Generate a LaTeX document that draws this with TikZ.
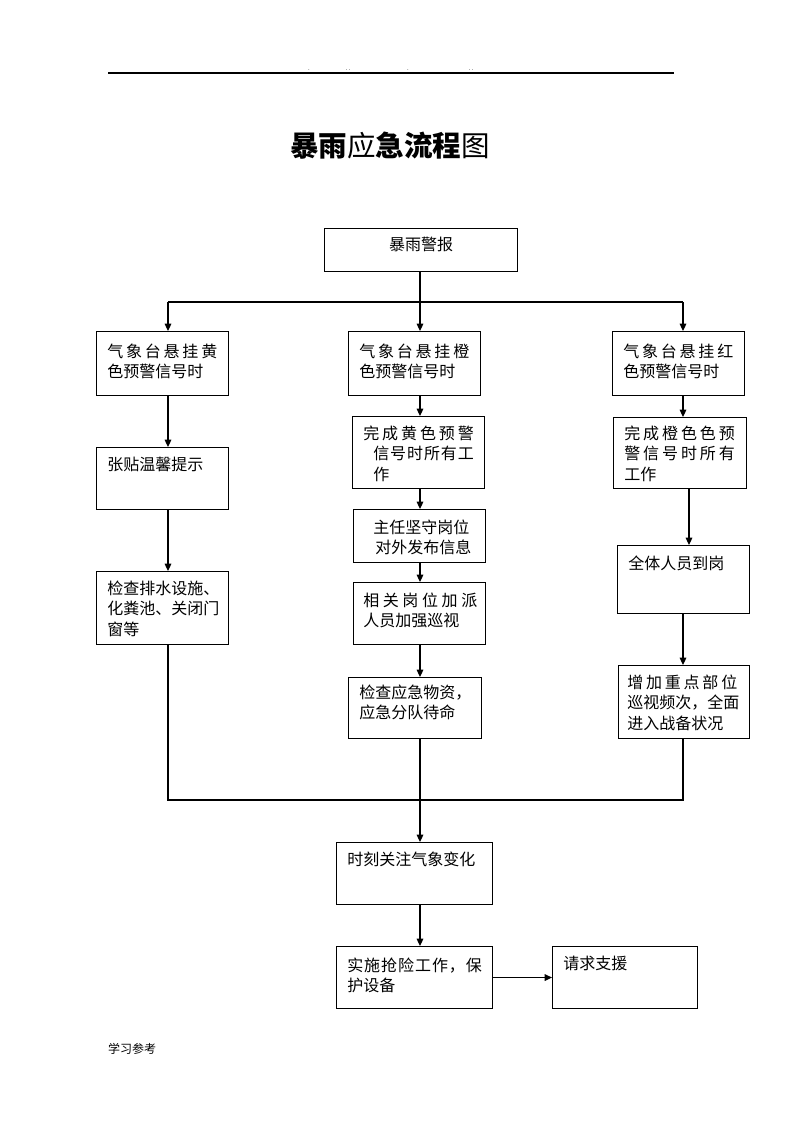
\documentclass[tikz,border=0pt]{standalone}
\usepackage{fontspec}
\newfontfamily\cjk{Noto Sans CJK SC}
\usetikzlibrary{arrows.meta}
\newcommand\corps{\cjk\fontsize{12pt}{15.4pt}\selectfont}
% caracteres repartis sur une largeur donnee
\def\etirelist#1#2{#1\ifx\relax#2\else\hfil\expandafter\etirelist\expandafter#2\fi}
\newcommand\etire[2]{\hbox to #1{\etirelist#2\relax}}
\begin{document}
\begin{tikzpicture}[x=0.75pt,y=-0.75pt,
	trait/.style={line width=0.8pt},
	fleche/.style={trait,-{Triangle[length=5.5pt,width=5pt]}},
	boite/.style={draw,line width=0.8pt,inner sep=0pt,anchor=north west},
	taille/.style 2 args={minimum width=#1*0.75pt,minimum height=#2*0.75pt},
	texte/.style={anchor=north west,inner sep=0pt,align=left,font=\corps},
	point/.style={anchor=base,inner sep=0pt,font=\fontsize{5pt}{5pt}\selectfont}]
	\useasboundingbox (0,0) rectangle (793,1122);
%					En-tete de page :
	\draw[line width=0.9pt] (108,73) -- (674,73);
	\node[point] (p1) at (309,70) {.};
	\node[point] (p2) at (348,70) {..};
	\node[point] (p3) at (408,70) {.};
	\node[point] (p4) at (471,70) {..};
	\node[font=\cjk\fontsize{21.4pt}{24pt}\selectfont] (titre) at (390,146) {{\bfseries 暴雨}应{\bfseries 急流程}图};
%					Cadres :
	\node[boite,taille={193}{43}] (alerte) at (324,228) {};
	\node[font=\corps] (t-alerte) at (421,244) {暴雨警报};
	% colonne jaune
	\node[boite,taille={132}{64}] (jaune1) at (96,331) {};
	\node[texte] (t-jaune1) at (107,343.5) {\etire{82.5pt}{气象台悬挂黄}\\色预警信号时};
	\node[boite,taille={132}{62}] (jaune2) at (96,447) {};
	\node[texte] (t-jaune2) at (107,456.5) {张贴温馨提示};
	\node[boite,taille={132}{73}] (jaune3) at (96,571) {};
	\node[texte] (t-jaune3) at (107,580.5) {检查排水设施、\\化粪池、关闭门\\窗等};
	% colonne orange
	\node[boite,taille={132}{64}] (orange1) at (348,331) {};
	\node[texte] (t-orange1) at (359,343.5) {\etire{82.5pt}{气象台悬挂橙}\\色预警信号时};
	\node[boite,taille={132}{72}] (orange2) at (352,416) {};
	\node[texte] (t-orange2) at (363,425.5) {\etire{83pt}{完成黄色预警}\\\hspace*{7.5pt}\etire{75.5pt}{信号时所有工}\\\hspace*{7.5pt}作};
	\node[boite,taille={132}{53}] (orange3) at (353,509) {};
	\node[texte] (t-orange3) at (373,519.5) {主任坚守岗位\\\hspace*{1.5pt}对外发布信息};
	\node[boite,taille={132}{62}] (orange4) at (353,582) {};
	\node[texte] (t-orange4) at (363,592.5) {\etire{85.5pt}{相关岗位加派}\\人员加强巡视};
	\node[boite,taille={133}{61}] (orange5) at (348,677) {};
	\node[texte] (t-orange5) at (359,684.5) {检查应急物资，\\应急分队待命};
	% colonne rouge
	\node[boite,taille={132}{64}] (rouge1) at (612,331) {};
	\node[texte] (t-rouge1) at (623,343.5) {\etire{82.5pt}{气象台悬挂红}\\色预警信号时};
	\node[boite,taille={133}{71}] (rouge2) at (613,417) {};
	\node[texte] (t-rouge2) at (624,425.5) {\etire{83pt}{完成橙色色预}\\\etire{83pt}{警信号时所有}\\工作};
	\node[boite,taille={132}{68}] (rouge3) at (617,545) {};
	\node[texte] (t-rouge3) at (628,555.5) {全体人员到岗};
	\node[boite,taille={131}{73}] (rouge4) at (618,665) {};
	\node[texte] (t-rouge4) at (627,674.5) {\etire{82.5pt}{增加重点部位}\\巡视频次，全面\\进入战备状况};
	% bas
	\node[boite,taille={156}{62}] (suivi) at (336,842) {};
	\node[texte] (t-suivi) at (347,851.5) {时刻关注气象变化};
	\node[boite,taille={156}{62}] (secours) at (336,946) {};
	\node[texte] (t-secours) at (347,957.5) {\etire{101pt}{实施抢险工作，保}\\护设备};
	\node[boite,taille={145}{62}] (appui) at (552,946) {};
	\node[texte] (t-appui) at (563,955.5) {请求支援};
	\node[font=\cjk\fontsize{9pt}{10pt}\selectfont] (pied) at (132,1049) {学习参考};
%					Liaisons :
	\coordinate (g) at (168,302);
	\coordinate (m) at (420,302);
	\coordinate (d) at (683,302);
	\coordinate (d1) at (689,302);
	\coordinate (g2) at (168,800);
	\coordinate (d2) at (683,800);
	\draw[trait] (alerte.south -| m) -- (m);
	\draw[trait] (g) -- (d);
	\draw[fleche] (g) -- (jaune1.north -| g);
	\draw[fleche] (m) -- (orange1.north -| m);
	\draw[fleche] (d) -- (rouge1.north -| d);
	\draw[fleche] (jaune1.south -| g) -- (jaune2.north -| g);
	\draw[fleche] (jaune2.south -| g) -- (jaune3.north -| g);
	\draw[fleche] (orange1.south -| m) -- (orange2.north -| m);
	\draw[fleche] (orange2.south -| m) -- (orange3.north -| m);
	\draw[fleche] (orange3.south -| m) -- (orange4.north -| m);
	\draw[fleche] (orange4.south -| m) -- (orange5.north -| m);
	\draw[fleche] (rouge1.south -| d) -- (rouge2.north -| d);
	\draw[fleche] (rouge2.south -| d1) -- (rouge3.north -| d1);
	\draw[fleche] (rouge3.south -| d) -- (rouge4.north -| d);
	\draw[trait] (jaune3.south -| g) -- (g2) -- (d2) -- (rouge4.south -| d);
	\draw[fleche] (orange5.south -| m) -- (suivi.north -| m);
	\draw[fleche] (suivi.south -| m) -- (secours.north -| m);
	\draw[fleche] (secours) -- (appui);
\end{tikzpicture}
\end{document}
